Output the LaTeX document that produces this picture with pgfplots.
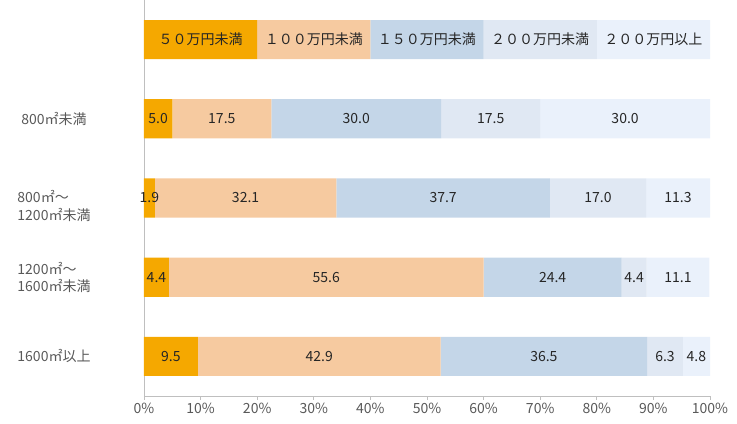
\documentclass[border=0pt]{standalone}
\usepackage{pgfplots}
\pgfplotsset{compat=1.18}
\usepackage{fontspec}
\setmainfont{Noto Sans CJK JP}
\definecolor{c1}{RGB}{245,168,0}
\definecolor{c2}{RGB}{246,202,160}
\definecolor{c3}{RGB}{196,214,232}
\definecolor{c4}{RGB}{224,232,243}
\definecolor{c5}{RGB}{234,241,251}
\definecolor{axgray}{RGB}{191,191,191}
\definecolor{txt}{RGB}{89,89,89}
\definecolor{dtxt}{RGB}{38,38,38}
\begin{document}
\begin{tikzpicture}
\begin{axis}[
  name=ax,
  scale only axis, width=566pt, height=396pt,
  xbar stacked, bar width=0.494,
  xmin=0, xmax=100, ymin=-0.5, ymax=4.5,
  axis x line*=bottom, axis y line*=left,
  axis line style={axgray, line width=0.8pt},
  every tick/.style={axgray, line width=0.8pt},
  xtick={0,10,20,30,40,50,60,70,80,90,100},
  xticklabels={0\%,10\%,20\%,30\%,40\%,50\%,60\%,70\%,80\%,90\%,100\%},
  xtick align=outside, major tick length=4pt,
  xticklabel style={font=\fontsize{14}{16}\selectfont, text=txt, yshift=0pt},
  ytick={0,1,2,3},
  yticklabels={{1600㎡以上},{1200㎡～\\1600㎡未満},{\raisebox{-13.5pt}[0pt][0pt]{\begin{tabular}{@{}l@{}}800㎡～\\1200㎡未満\end{tabular}}},{800㎡未満}},
  yticklabel style={font=\fontsize{14}{17}\selectfont, text=txt, align=left, anchor=center, xshift=-90pt},
  y tick style={draw=none},
  minor ytick={-0.5,0.5,1.5,2.5,3.5,4.5},
  minor y tick style={axgray, line width=0.8pt},
  minor tick length=4pt,
  ytick align=inside,
  point meta=explicit symbolic,
  nodes near coords,
  every node near coord/.append style={anchor=center, font=\fontsize{14}{16}\selectfont, text=dtxt},
  clip=false,
]
\addplot[fill=c1, draw=none] coordinates {(20,4)[５０万円未満] (5.0,3)[5.0] (1.9,2)[1.9] (4.4,1)[4.4] (9.5,0)[9.5]};
\addplot[fill=c2, draw=none] coordinates {(20,4)[１００万円未満] (17.5,3)[17.5] (32.1,2)[32.1] (55.6,1)[55.6] (42.9,0)[42.9]};
\addplot[fill=c3, draw=none] coordinates {(20,4)[１５０万円未満] (30.0,3)[30.0] (37.7,2)[37.7] (24.4,1)[24.4] (36.5,0)[36.5]};
\addplot[fill=c4, draw=none] coordinates {(20,4)[２００万円未満] (17.5,3)[17.5] (17.0,2)[17.0] (4.4,1)[4.4] (6.3,0)[6.3]};
\addplot[fill=c5, draw=none] coordinates {(20,4)[２００万円以上] (30.0,3)[30.0] (11.3,2)[11.3] (11.1,1)[11.1] (4.8,0)[4.8]};
\end{axis}
\pgfresetboundingbox
\path ([xshift=-144pt,yshift=-28pt]ax.south west) rectangle ([xshift=27pt]ax.north east);
\end{tikzpicture}
\end{document}
